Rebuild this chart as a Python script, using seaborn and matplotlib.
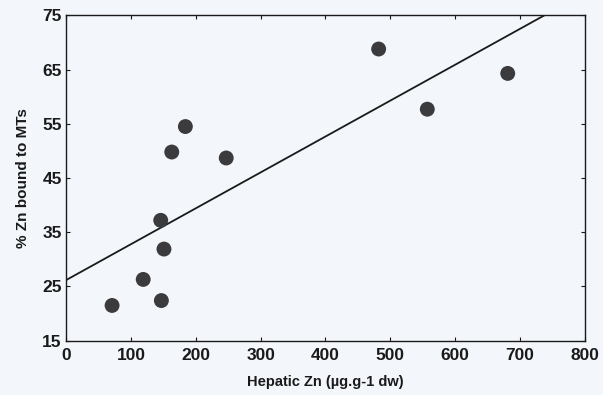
import matplotlib
matplotlib.use("Agg")
import matplotlib.pyplot as plt
import seaborn as sns
import pandas as pd

hepatic_zn = [71, 119, 147, 151, 146, 163, 184, 247, 482, 557, 681]
pct_zn_mt = [21.5, 26.3, 22.4, 31.9, 37.2, 49.8, 54.5, 48.7, 68.8, 57.7, 64.3]
x_ticks = [0, 100, 200, 300, 400, 500, 600, 700, 800]
y_ticks = [15, 25, 35, 45, 55, 65, 75]

df = pd.DataFrame({"x": hepatic_zn, "y": pct_zn_mt})

sns.set_style("white")
plt.rcParams["font.family"] = ["Liberation Sans", "DejaVu Sans"]

bg = "#f3f6fa"
fig = plt.figure(figsize=(6.03, 3.95), dpi=100, facecolor=bg)
ax = fig.add_axes([0.1095, 0.1375, 0.8605, 0.8235])
ax.set_facecolor(bg)
ax.set_xlim(0, 800)
ax.set_ylim(15, 75)

sns.regplot(data=df, x="x", y="y", ax=ax, ci=None, truncate=False,
            scatter_kws=dict(s=115, color="#3b3b3d", edgecolor="none", alpha=1, zorder=3),
            line_kws=dict(color="#1a1a1a", lw=1.3, zorder=2))
ax.set_xlim(0, 800)
ax.set_ylim(15, 75)

ax.set_xticks(x_ticks)
ax.set_yticks(y_ticks)
ax.tick_params(direction="in", length=3, width=0.8, top=True, right=True,
               bottom=True, left=True, labelsize=12.5, colors="#1a1a1a")
ax.tick_params(axis="x", pad=5)
ax.tick_params(axis="y", pad=3)
for lab in ax.get_xticklabels() + ax.get_yticklabels():
    lab.set_fontweight("bold")
for s in ax.spines.values():
    s.set_color("#1a1a1a")
    s.set_linewidth(1.0)

ax.set_xlabel("Hepatic Zn (µg.g-1 dw)", fontsize=10.5, fontweight="bold", labelpad=9, color="#1a1a1a")
ax.set_ylabel("% Zn bound to MTs", fontsize=11, fontweight="bold", labelpad=9, color="#1a1a1a")

fig.savefig("out.png", dpi=100, facecolor=bg)
